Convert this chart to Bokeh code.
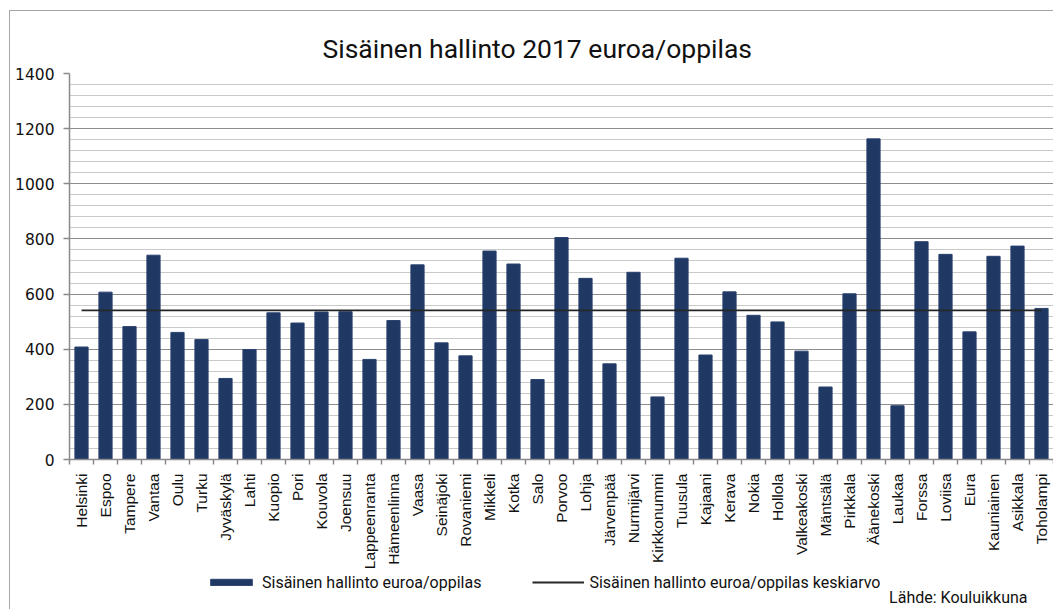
from math import pi
from bokeh.plotting import figure
from bokeh.layouts import column
from bokeh.models import (Range1d, FixedTicker, Legend, LegendItem, Label,
                          ColumnDataSource)
from bokeh.embed import file_html
from bokeh.resources import INLINE

# ---- data ----
kunnat = ["Helsinki", "Espoo", "Tampere", "Vantaa", "Oulu", "Turku", "Jyväskylä",
          "Lahti", "Kuopio", "Pori", "Kouvola", "Joensuu", "Lappeenranta",
          "Hämeenlinna", "Vaasa", "Seinäjoki", "Rovaniemi", "Mikkeli", "Kotka",
          "Salo", "Porvoo", "Lohja", "Järvenpää", "Nurmijärvi", "Kirkkonummi",
          "Tuusula", "Kajaani", "Kerava", "Nokia", "Hollola", "Valkeakoski",
          "Mäntsälä", "Pirkkala", "Äänekoski", "Laukaa", "Forssa", "Loviisa",
          "Eura", "Kauniainen", "Asikkala", "Toholampi"]
arvot = [408, 607, 482, 741, 461, 435, 294, 399, 532, 495, 535, 536, 363, 504,
         706, 423, 376, 756, 709, 290, 805, 657, 347, 679, 227, 730, 379, 608,
         523, 499, 393, 263, 601, 1163, 195, 790, 744, 463, 737, 774, 548]
keskiarvo = 541
y_ticks = [0, 200, 400, 600, 800, 1000, 1200, 1400]
y_minor_ticks = list(range(0, 1401, 40))

title_text = "Sisäinen hallinto 2017 euroa/oppilas"
bar_label = "Sisäinen hallinto euroa/oppilas"
line_label = "Sisäinen hallinto euroa/oppilas keskiarvo"
source_text = "Lähde: Kouluikkuna"

BAR_COLOR = "#1f3864"
BAR_EDGE = "#2a4270"
LINE_COLOR = "#262626"
TEXT_COLOR = "#111111"

n = len(kunnat)
xs = list(range(n))
src = ColumnDataSource(dict(x=xs, arvo=arvot, ka=[keskiarvo] * n, kunta=kunnat))

W, H1, H2 = 1043, 561, 37
p = figure(width=W, height=H1, output_backend="svg", toolbar_location=None,
           x_range=Range1d(-0.5, n - 0.5), y_range=Range1d(0, 1400),
           min_border_left=59, min_border_right=0, min_border_top=62,
           min_border_bottom=110)
p.outline_line_color = None
p.background_fill_color = "white"
p.border_fill_color = "white"

# title
p.title.text = title_text
p.title.align = "left"
p.title.offset = 253
p.title.standoff = 19
p.title.text_font = "Roboto"
p.title.text_font_size = "26.5px"
p.title.text_font_style = "normal"
p.title.text_color = TEXT_COLOR

# x axis: labels at category centres, small ticks at category boundaries
xa = p.xaxis[0]
xa.ticker = FixedTicker(ticks=xs, minor_ticks=[i - 0.5 for i in range(n + 1)])
xa.major_label_overrides = {i: k for i, k in zip(xs, kunnat)}
xa.major_label_orientation = pi / 2
xa.major_tick_out = 0
xa.major_tick_in = 0
xa.minor_tick_out = 5
xa.minor_tick_in = 0
xa.minor_tick_line_color = "#8a8a8a"
xa.minor_tick_line_width = 1.5
xa.axis_line_color = "#8a8a8a"
xa.axis_line_width = 1.5
xa.major_label_standoff = 9
xa.major_label_text_font = "Liberation Sans"
xa.major_label_text_font_size = "15.5px"
xa.major_label_text_color = TEXT_COLOR

ya = p.yaxis[0]
ya.ticker = FixedTicker(ticks=y_ticks, minor_ticks=y_minor_ticks)
ya.major_tick_out = 6
ya.major_tick_in = 0
ya.minor_tick_out = 0
ya.minor_tick_in = 0
ya.major_tick_line_color = "#8a8a8a"
ya.major_tick_line_width = 1.5
ya.axis_line_color = "#8a8a8a"
ya.axis_line_width = 1.5
ya.major_label_standoff = 9
ya.major_label_text_font = "DejaVu Sans"
ya.major_label_text_font_size = "15.5px"
ya.major_label_text_color = TEXT_COLOR

p.xgrid.visible = False
p.ygrid.grid_line_color = "#8c8c8c"
p.ygrid.grid_line_width = 1.2
p.ygrid.minor_grid_line_color = "#c9c9c9"
p.ygrid.minor_grid_line_width = 1.2

p.vbar(x="x", top="arvo", width=0.55, source=src,
       fill_color=BAR_COLOR, line_color=BAR_EDGE, line_width=1)
p.line(x="x", y="ka", source=src, line_color=LINE_COLOR, line_width=1.8)

# ---- strip below the chart: legend and source ----
# (its frame is aligned with the chart frame by the column layout)
p2 = figure(width=W, height=H2, output_backend="svg", toolbar_location=None,
            x_range=Range1d(0, 1), y_range=Range1d(0, 1),
            x_axis_type=None, y_axis_type=None, min_border=0)
p2.outline_line_color = None
p2.background_fill_color = "white"
p2.border_fill_color = "white"

# hidden proxies of the two series, used only for the legend glyphs
lg_bar = p2.vbar(x="x", top="arvo", width=0.55, source=src, visible=False,
                 fill_color=BAR_COLOR, line_color=BAR_EDGE, line_width=1)
lg_line = p2.line(x="x", y="ka", source=src, visible=False,
                  line_color=LINE_COLOR, line_width=1.8)

legend = Legend(items=[LegendItem(label=bar_label, renderers=[lg_bar]),
                       LegendItem(label=line_label, renderers=[lg_line])],
                location=(136, 17), orientation="horizontal",
                glyph_width=52, glyph_height=8, label_standoff=5, spacing=51,
                label_height=20, padding=0, margin=0, border_line_color=None,
                background_fill_alpha=0, inactive_fill_alpha=0,
                click_policy="none",
                label_text_font="Roboto", label_text_font_size="16px",
                label_text_color=TEXT_COLOR)
p2.add_layout(legend)

p2.add_layout(Label(x=958, y=12, x_units="screen", y_units="screen",
                    text=source_text, text_align="right", text_baseline="middle",
                    text_font="Roboto", text_font_size="16px",
                    text_color=TEXT_COLOR))

layout = column(p, p2, spacing=0,
                styles={"border-left": "1px solid #a6a6a6",
                        "border-top": "1px solid #a6a6a6",
                        "position": "relative", "top": "10px", "left": "9px"})

open("out.html", "w").write(file_html(layout, INLINE))
